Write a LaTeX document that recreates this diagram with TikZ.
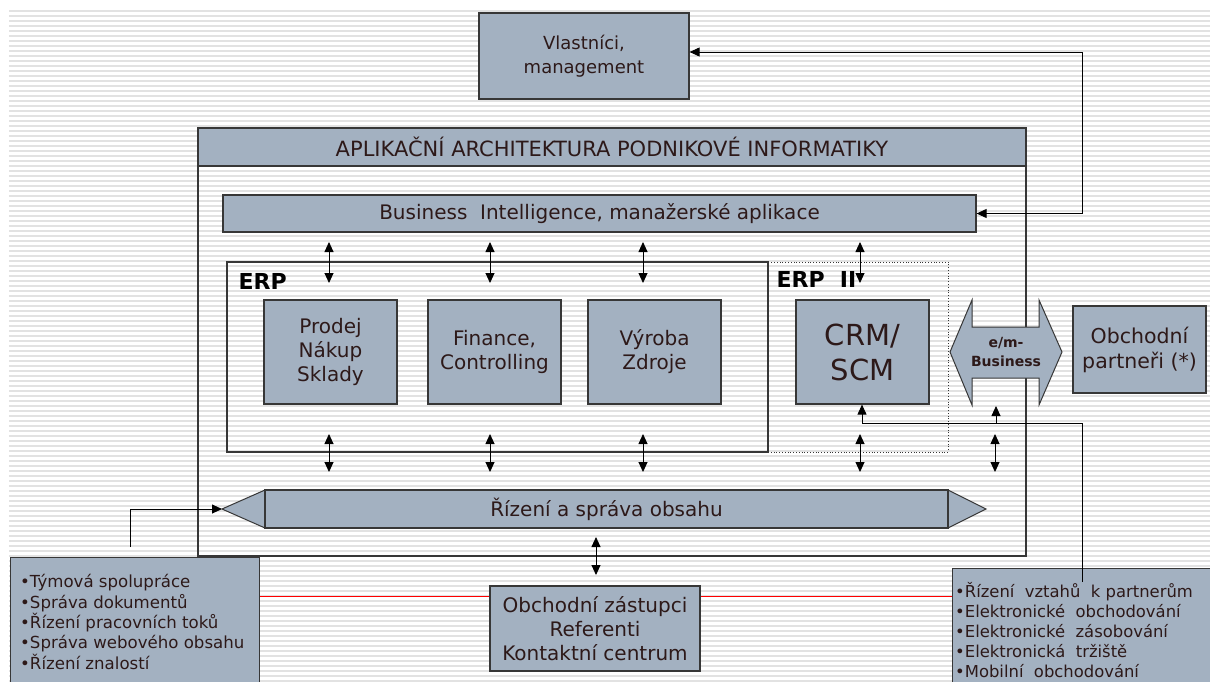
\documentclass[tikz,border=0pt]{standalone}
\usepackage{fontspec}
\setmainfont{DejaVu Sans}
\usetikzlibrary{arrows.meta,calc}
\definecolor{boxfill}{RGB}{163,177,193}
\definecolor{txt}{RGB}{45,25,25}
\definecolor{edge}{RGB}{55,55,55}
\definecolor{stripe}{RGB}{226,226,226}
\begin{document}
\begin{tikzpicture}[x=1pt,y=-1pt,
 box/.style={draw=edge,line width=1.2pt,fill=boxfill,text=txt,align=center,inner sep=0pt},
 frame/.style={draw=edge,line width=1.2pt,inner sep=0pt},
 tip/.style={-{Triangle[length=10pt,width=9pt]}},
 dbl/.style={{Triangle[length=10pt,width=9pt]}-{Triangle[length=10pt,width=9pt]}},
 conn/.style={line width=0.9pt,black},
 mid/.style={font=\fontsize{20}{24}\selectfont},
 lbl/.style={anchor=west,font=\bfseries\fontsize{22}{26}\selectfont,text=black},
 ]
\useasboundingbox (0,0) rectangle (1210,681);
\fill[white] (0,0) rectangle (1210,681);
\foreach \k in {0,...,134}{\draw[stripe,line width=1.3pt] (9,{11+5*\k}) -- (1210,{11+5*\k});}

% top box
\node[box,font=\fontsize{18}{24}\selectfont,minimum width=210pt,minimum height=86pt] (vm) at (584,56) {Vlastníci,\\management};

% main frame
\node[frame,minimum width=828pt,minimum height=428pt] (main) at (612,342) {};
\node[box,minimum width=828pt,minimum height=38pt,font=\fontsize{21}{24}\selectfont] (hdr) at (612,147) {APLIKAČNÍ ARCHITEKTURA PODNIKOVÉ INFORMATIKY};
\node[box,minimum width=753pt,minimum height=37pt,font=\fontsize{20}{24}\selectfont] (bi) at (599.5,213.5) {Business\ \ Intelligence,\ manažerské aplikace};

% ERP frames
\node[draw=edge,dotted,line width=0.8pt,minimum width=180pt,minimum height=190pt,inner sep=0pt] (erp2) at (858,357) {};
\node[frame,minimum width=541pt,minimum height=190pt] (erp) at (497.5,357) {};
\node[lbl] (erpl) at (235,281) {ERP};
\node[lbl] (erp2l) at (773,279) {ERP\ \ II};

\node[box,mid,minimum width=133pt,minimum height=104pt] (prodej) at (330.5,352) {Prodej\\Nákup\\Sklady};
\node[box,mid,minimum width=133pt,minimum height=104pt] (fin) at (494.5,352) {Finance,\\Controlling};
\node[box,mid,minimum width=133pt,minimum height=104pt] (vyr) at (654.5,352) {Výroba\\Zdroje};
\node[box,minimum width=133pt,minimum height=104pt,font=\fontsize{29}{35}\selectfont] (crm) at (862.5,352) {CRM/\\SCM};

% e/m-Business double arrow
\filldraw[fill=boxfill,draw=edge,line width=1pt] (950,352) -- (972,300) -- (972,327) -- (1039,327) -- (1039,300) -- (1062,352) -- (1039,405) -- (1039,378) -- (972,378) -- (972,405) -- cycle;
\node[align=center,font=\bfseries\fontsize{14}{19}\selectfont,text=txt] (emb) at (1006,352) {e/m-\\Business};

\node[box,font=\fontsize{20.5}{25}\selectfont,minimum width=133pt,minimum height=87pt] (partn) at (1139.5,349.5) {Obchodní\\partneři (*)};

% content management banner
\filldraw[fill=boxfill,draw=edge,line width=1pt] (222,509) -- (265,490) -- (948,490) -- (986,509) -- (948,528) -- (265,528) -- cycle;
\node[box,minimum width=683pt,minimum height=38pt,font=\fontsize{20}{24}\selectfont] (rz) at (606.5,509) {Řízení a správa obsahu};
\coordinate (rztip) at (222,509);

% bottom boxes
\node[box,minimum width=249pt,minimum height=130pt,anchor=north west] (lb) at (10,557) {};
\node[anchor=west,align=left,text=txt,inner sep=0pt,font=\fontsize{16.6}{20.3}\selectfont] (lbt) at (20,622) {•Týmová spolupráce\\•Správa dokumentů\\•Řízení pracovních toků\\•Správa webového obsahu\\•Řízení znalostí};

\node[box,mid,minimum width=210pt,minimum height=85pt] (cb) at (595,628.5) {Obchodní zástupci\\Referenti\\Kontaktní centrum};

\node[box,minimum width=262pt,minimum height=125pt,anchor=north west] (rb) at (952,568) {};

% connectors
\coordinate (rt) at (1082,52);
\draw[conn,dbl] (bi.east) -| (rt) -- (vm.east |- rt);

\foreach \x/\n in {329/a,490/b,643/c,860/d}{
  \coordinate (u\n1) at (\x,242); \coordinate (u\n2) at (\x,283);
  \draw[conn,dbl] (u\n1) -- (u\n2);}
\foreach \x/\n in {329/a,490/b,643/c,860/d,995/e}{
  \coordinate (d\n1) at (\x,434); \coordinate (d\n2) at (\x,472);
  \draw[conn,dbl] (d\n1) -- (d\n2);}
\coordinate (c1) at (596,537); \coordinate (c2) at (596,575);
\draw[conn,dbl] (c1) -- (c2);

\coordinate (j0) at (1082,582);
\coordinate (j1) at (1082,423);
\coordinate (j2) at (862,423);
\coordinate (j3) at (996,423);
\draw[conn,tip] (j0) -- (j1) -- (j2) -- (crm.south -| j2);
\draw[conn,tip] (j3) -- (j3 |- 0,406);

\coordinate (l1) at (130,547);
\coordinate (l2) at (130,509);
\draw[conn,tip] (l1) -- (l2) -- (rztip);

\draw[red,line width=0.9pt] (lb.east |- 0,596) -- (cb.west |- 0,596);
\draw[red,line width=0.9pt] (cb.east |- 0,596) -- (rb.west |- 0,596);

\node[anchor=west,align=left,text=txt,inner sep=0pt,font=\fontsize{16.4}{20}\selectfont] (rbt) at (955,630) {•Řízení\ \ vztahů\ \ k partnerům\\•Elektronické\ \ obchodování\\•Elektronické\ \ zásobování\\•Elektronická\ \ tržiště\\•Mobilní\ \ obchodování};
\end{tikzpicture}
\end{document}
